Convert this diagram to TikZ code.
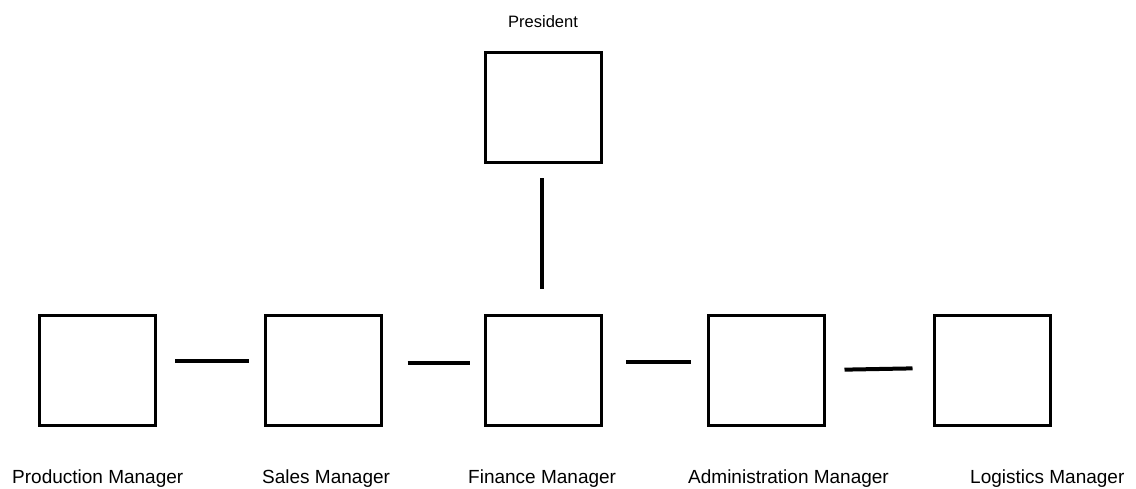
\documentclass[tikz,border=0pt]{standalone}
\usepackage{fontspec}
\setmainfont{Liberation Sans}
\begin{document}
\begin{tikzpicture}[x=1pt,y=-1pt,
  box/.style={draw=black,line width=3pt,minimum width=116pt,minimum height=110pt,inner sep=0pt,fill=white},
  conn/.style={line width=4pt,black},
  lab/.style={anchor=base west,inner sep=0pt,font=\fontsize{19}{22}\selectfont},
  plab/.style={anchor=base west,inner sep=0pt,font=\fontsize{16.5}{20}\selectfont}]
\useasboundingbox[fill=white] (0,0) rectangle (1136,488);
\node[box] (pres) at (543,107.5) {};
\node[box] (prod) at (97.5,370.5) {};
\node[box] (sales) at (323,370.5) {};
\node[box] (fin) at (543.5,370.5) {};
\node[box] (adm) at (766,370.5) {};
\node[box] (log) at (992,370.5) {};
\draw[conn,shorten <=14pt,shorten >=25pt] ([xshift=-1pt]pres.south) -- ([xshift=-1.5pt]fin.north);
\draw[conn,shorten <=18pt,shorten >=15pt] ([yshift=9.5pt]prod.east) -- ([yshift=9.5pt]sales.west);
\draw[conn,shorten <=25pt,shorten >=14pt] ([yshift=7.5pt]sales.east) -- ([yshift=7.5pt]fin.west);
\draw[conn,shorten <=23pt,shorten >=16pt] ([yshift=8.5pt]fin.east) -- ([yshift=8.5pt]adm.west);
\draw[conn,shorten <=19pt,shorten >=20pt] ([yshift=0.5pt]adm.east) -- ([yshift=2.5pt]log.west);
\node[plab] (tpres) at (508,27) {President};
\node[lab] (tprod) at (12,483) {Production Manager};
\node[lab] (tsales) at (262,483) {Sales Manager};
\node[lab] (tfin) at (468,483) {Finance Manager};
\node[lab] (tadm) at (688,483) {Administration Manager};
\node[lab] (tlog) at (970,483) {Logistics Manager};
\end{tikzpicture}
\end{document}
